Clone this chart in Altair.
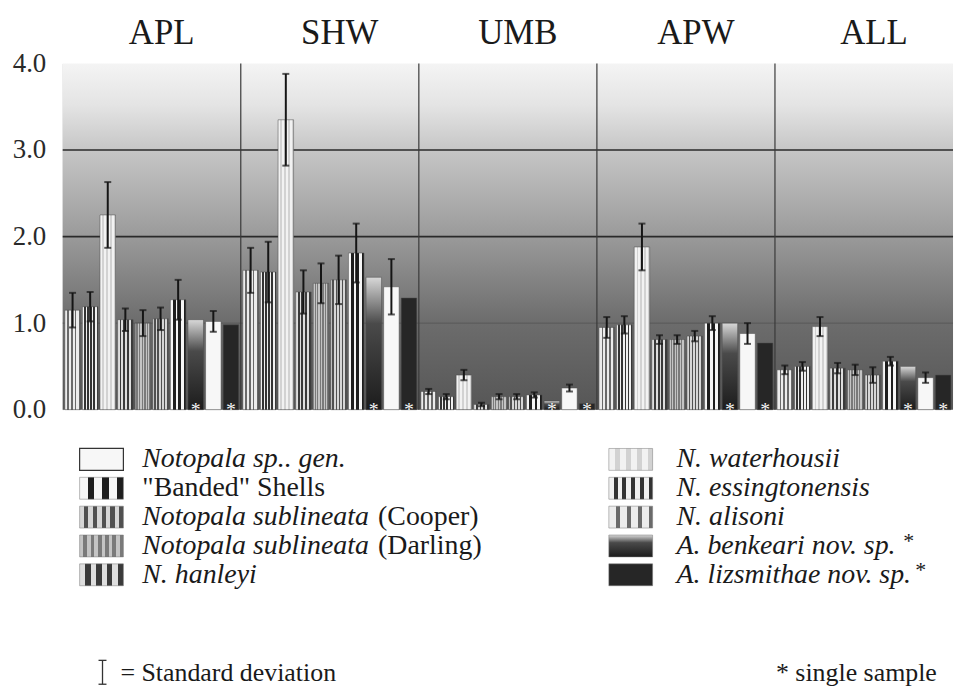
import altair as alt
import pandas as pd

# ---------------- data ----------------
groups = ["APL", "SHW", "UMB", "APW", "ALL"]
species = [
    "N. alisoni",
    "N. essingtonensis",
    "N. waterhousii",
    "N. hanleyi",
    "Notopala sublineata (Darling)",
    "Notopala sublineata (Cooper)",
    '"Banded" Shells',
    "A. benkeari nov. sp.",
    "Notopala sp.. gen.",
    "A. lizsmithae nov. sp.",
]
single_sample = ["A. benkeari nov. sp.", "A. lizsmithae nov. sp."]

mean_APL = [1.15, 1.19, 2.25, 1.04, 1.00, 1.05, 1.27, 1.04, 1.02, 0.98]
sd_APL = [0.20, 0.17, 0.38, 0.13, 0.15, 0.13, 0.23, 0.0, 0.12, 0.0]
mean_SHW = [1.61, 1.59, 3.35, 1.36, 1.46, 1.50, 1.81, 1.53, 1.42, 1.29]
sd_SHW = [0.26, 0.35, 0.53, 0.25, 0.23, 0.28, 0.34, 0.0, 0.32, 0.0]
mean_UMB = [0.21, 0.15, 0.40, 0.06, 0.15, 0.15, 0.17, 0.10, 0.25, 0.07]
sd_UMB = [0.03, 0.03, 0.06, 0.02, 0.03, 0.03, 0.03, 0.0, 0.04, 0.0]
mean_APW = [0.95, 0.98, 1.88, 0.81, 0.81, 0.85, 1.00, 1.00, 0.88, 0.77]
sd_APW = [0.12, 0.10, 0.27, 0.05, 0.05, 0.06, 0.08, 0.0, 0.12, 0.0]
mean_ALL = [0.46, 0.50, 0.96, 0.48, 0.46, 0.40, 0.56, 0.50, 0.37, 0.40]
sd_ALL = [0.05, 0.05, 0.11, 0.06, 0.06, 0.09, 0.05, 0.0, 0.06, 0.0]

y_ticks = [0, 1, 2, 3, 4]
grid_dark = [2, 3]
grid_faint = [1]

legend_col1 = ["Notopala sp.. gen.", '"Banded" Shells', "Notopala sublineata (Cooper)",
               "Notopala sublineata (Darling)", "N. hanleyi"]
legend_col2 = ["N. waterhousii", "N. essingtonensis", "N. alisoni",
               "A. benkeari nov. sp.", "A. lizsmithae nov. sp."]
# (italic part, upright part)
legend_text = {
    "Notopala sp.. gen.": ("Notopala sp.. gen.", ""),
    '"Banded" Shells': ("", '"Banded" Shells'),
    "Notopala sublineata (Cooper)": ("Notopala sublineata", "(Cooper)"),
    "Notopala sublineata (Darling)": ("Notopala sublineata", "(Darling)"),
    "N. hanleyi": ("N. hanleyi", ""),
    "N. waterhousii": ("N. waterhousii", ""),
    "N. essingtonensis": ("N. essingtonensis", ""),
    "N. alisoni": ("N. alisoni", ""),
    "A. benkeari nov. sp.": ("A. benkeari nov. sp.", "*"),
    "A. lizsmithae nov. sp.": ("A. lizsmithae nov. sp.", "*"),
}
sd_label = "= Standard deviation"
single_label = "* single sample"

# ---------------- table ----------------
means = {"APL": mean_APL, "SHW": mean_SHW, "UMB": mean_UMB, "APW": mean_APW, "ALL": mean_ALL}
sds = {"APL": sd_APL, "SHW": sd_SHW, "UMB": sd_UMB, "APW": sd_APW, "ALL": sd_ALL}
rows = []
for g in groups:
    for s, m, d in zip(species, means[g], sds[g]):
        rows.append({"group": g, "species": s, "mean": m, "sd": d,
                     "lo": m - d, "hi": m + d})
df = pd.DataFrame(rows)
one = pd.DataFrame({"k": [0]})

# ---------------- styling ----------------
W, H = 895, 348
SERIF = "Liberation Serif"


def stripes(light, dark, n, duty):
    stops = []
    for i in range(n):
        a = i / n
        b = (i + (1 - duty)) / n
        c = (i + 1) / n
        stops += [{"offset": a, "color": light}, {"offset": b, "color": light},
                  {"offset": b, "color": dark}, {"offset": c, "color": dark}]
    return {"gradient": "linear", "x1": 0, "y1": 0, "x2": 1, "y2": 0, "stops": stops}


fills = {
    "N. alisoni": stripes("#ececec", "#6a6a6a", 4, 0.35),
    "N. essingtonensis": stripes("#f0f0f0", "#333333", 5, 0.45),
    "N. waterhousii": stripes("#f2f2f2", "#d2d2d2", 4, 0.4),
    "N. hanleyi": stripes("#dedede", "#3a3a3a", 4, 0.5),
    "Notopala sublineata (Darling)": stripes("#c4c4c4", "#7a7a7a", 6, 0.5),
    "Notopala sublineata (Cooper)": stripes("#d6d6d6", "#505050", 5, 0.5),
    '"Banded" Shells': stripes("#f6f6f6", "#1e1e1e", 3, 0.45),
    "A. benkeari nov. sp.": {"gradient": "linear", "x1": 0, "y1": 0, "x2": 0, "y2": 1,
                              "stops": [{"offset": 0, "color": "#d8d8d8"},
                                        {"offset": 0.35, "color": "#4a4a4a"},
                                        {"offset": 1, "color": "#1c1c1c"}]},
    "Notopala sp.. gen.": "#f7f7f7",
    "A. lizsmithae nov. sp.": "#262626",
}

xg = alt.X("group:N", scale=alt.Scale(domain=groups, paddingInner=0, paddingOuter=0), axis=None)
xo = alt.XOffset("species:N", scale=alt.Scale(domain=species, paddingInner=0.12, paddingOuter=0.12))
yaxis = alt.Axis(values=y_ticks, format=".1f", grid=False, ticks=False, domain=True,
                 domainColor="#c8c8c8", labelFont=SERIF, labelFontSize=27, labelColor="#2a2a2a",
                 labelPadding=17, title=None)
yscale = alt.Scale(domain=[0, 4], nice=False, zero=True)

layers = []

# background gradient
layers.append(alt.Chart(one).mark_rect(fill={
    "gradient": "linear", "x1": 0, "y1": 0, "x2": 0, "y2": 1,
    "stops": [{"offset": 0, "color": "#f4f4f4"}, {"offset": 0.12, "color": "#e4e4e4"},
              {"offset": 0.25, "color": "#c6c6c6"}, {"offset": 0.5, "color": "#9a9a9a"},
              {"offset": 0.75, "color": "#6c6c6c"}, {"offset": 1, "color": "#565656"}]
}).encode(x=alt.value(0), x2=alt.value(W), y=alt.value(0), y2=alt.value(H)))

# grid lines
layers.append(alt.Chart(pd.DataFrame({"v": grid_dark})).mark_rule(color="#2a2a2a", strokeWidth=1.6)
              .encode(y=alt.Y("v:Q", scale=yscale, axis=yaxis)))
layers.append(alt.Chart(pd.DataFrame({"v": grid_faint})).mark_rule(color="#4a4a4a", strokeWidth=1, opacity=0.6)
              .encode(y=alt.Y("v:Q", scale=yscale, axis=yaxis)))

# panel separators
layers.append(alt.Chart(pd.DataFrame({"group": groups[1:]})).mark_rule(color="#3a3a3a", strokeWidth=1.2)
              .encode(x=alt.X("group:N", scale=alt.Scale(domain=groups, paddingInner=0, paddingOuter=0),
                              axis=None, bandPosition=0),
                      y=alt.value(0), y2=alt.value(H)))

# bars
base = alt.Chart(df)
for s in species:
    layers.append(base.transform_filter(alt.datum.species == s)
                  .mark_bar(fill=fills[s], stroke="#4a4a4a", strokeWidth=0.5)
                  .encode(x=xg, xOffset=xo, y=alt.Y("mean:Q", scale=yscale, axis=yaxis)))

# error bars
err = base.transform_filter(alt.datum.sd > 0)
layers.append(err.mark_rule(color="#151515", strokeWidth=2)
              .encode(x=xg, xOffset=xo, y=alt.Y("lo:Q", scale=yscale, axis=yaxis), y2="hi:Q"))
layers.append(err.mark_tick(color="#151515", orient="horizontal", size=7, thickness=2)
              .encode(x=xg, xOffset=xo, y=alt.Y("hi:Q", scale=yscale, axis=yaxis)))
layers.append(err.mark_tick(color="#151515", orient="horizontal", size=7, thickness=2)
              .encode(x=xg, xOffset=xo, y=alt.Y("lo:Q", scale=yscale, axis=yaxis)))

# single-sample stars
layers.append(base.transform_filter(alt.FieldOneOfPredicate(field="species", oneOf=single_sample))
              .mark_text(text="*", color="#f4f4f4", font=SERIF, fontSize=20, baseline="alphabetic", dy=6)
              .encode(x=xg, xOffset=xo, y=alt.value(H)))

# group labels
layers.append(alt.Chart(pd.DataFrame({"group": groups}))
              .mark_text(font=SERIF, fontSize=35, color="#1a1a1a", baseline="alphabetic", dx=10)
              .encode(x=xg, y=alt.value(-20), text="group:N"))

# legend
ROW0, ROWSTEP, SW_H = 398, 29, 22
FS = 28
cols = [(legend_col1, 17, 80), (legend_col2, 549, 617)]
suffix_dx = {"(Cooper)": 237, "(Darling)": 237}
for items, sx, tx in cols:
    for i, s in enumerate(items):
        yc = ROW0 + i * ROWSTEP
        layers.append(alt.Chart(one).mark_rect(
            fill=fills[s], stroke="#333333" if s == "Notopala sp.. gen." else "#777777",
            strokeWidth=1.2 if s == "Notopala sp.. gen." else 0.5)
            .encode(x=alt.value(sx), x2=alt.value(sx + 44),
                    y=alt.value(yc - SW_H / 2), y2=alt.value(yc + SW_H / 2)))
        ital, up = legend_text[s]
        if ital:
            layers.append(alt.Chart(one).mark_text(text=ital, font=SERIF, fontSize=FS, fontStyle="italic",
                                                   color="#1a1a1a", align="left", baseline="middle")
                          .encode(x=alt.value(tx), y=alt.value(yc)))
        if up:
            if up == "*":
                dxs = 228 if "benkeari" in s else 240
                layers.append(alt.Chart(one).mark_text(text=up, font=SERIF, fontSize=FS - 6,
                                                       color="#1a1a1a", align="left", baseline="middle")
                              .encode(x=alt.value(tx + dxs), y=alt.value(yc - 5)))
            else:
                dxs = suffix_dx.get(up, 0)
                layers.append(alt.Chart(one).mark_text(text=up, font=SERIF, fontSize=FS,
                                                       color="#1a1a1a", align="left", baseline="middle")
                              .encode(x=alt.value(tx + dxs), y=alt.value(yc)))

# footnotes
GY = 612
layers.append(alt.Chart(one).mark_rule(color="#333333", strokeWidth=1.3)
              .encode(x=alt.value(40), y=alt.value(GY - 12), y2=alt.value(GY + 12)))
layers.append(alt.Chart(one).mark_rule(color="#333333", strokeWidth=1.3)
              .encode(x=alt.value(36), x2=alt.value(44), y=alt.value(GY - 12)))
layers.append(alt.Chart(one).mark_rule(color="#333333", strokeWidth=1.3)
              .encode(x=alt.value(36), x2=alt.value(44), y=alt.value(GY + 12)))
layers.append(alt.Chart(one).mark_text(text=sd_label, font=SERIF, fontSize=26, color="#1a1a1a",
                                       align="left", baseline="middle")
              .encode(x=alt.value(58), y=alt.value(GY + 1)))
layers.append(alt.Chart(one).mark_text(text=single_label, font=SERIF, fontSize=26, color="#1a1a1a",
                                       align="left", baseline="middle")
              .encode(x=alt.value(717), y=alt.value(GY + 1)))

chart = (alt.layer(*layers)
         .properties(width=W, height=H,
                     autosize=alt.AutoSizeParams(type="none"),
                     padding={"left": 55, "top": 54, "right": 5, "bottom": 278},
                     background="white")
         .configure_view(strokeWidth=0))

chart.save("out.html", embed_options={"renderer": "svg", "actions": False})
